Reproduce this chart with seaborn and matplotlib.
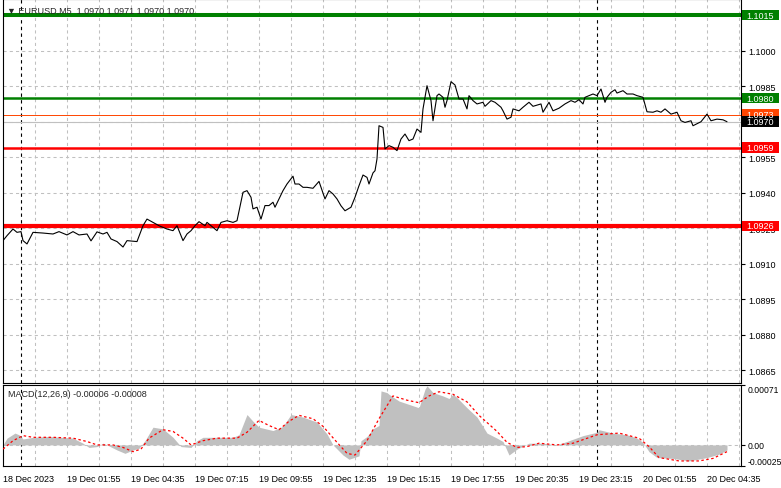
import matplotlib
matplotlib.use('Agg')
import matplotlib.pyplot as plt
from matplotlib.patches import Rectangle
import seaborn as sns

# EURUSD M5 closes, bar index counted from 18 Dec 23:15
price_bars = [0, 2, 5, 7, 9, 10, 12, 15, 20, 25, 28, 32, 35, 38, 42, 44, 47, 50, 52, 54,
              57, 60, 62, 67, 70, 72, 75, 78, 82, 85, 87, 90, 92, 94, 96, 98, 101, 102, 105, 107,
              109, 112, 115, 117, 120, 122, 124, 125, 127, 129, 131, 133, 135, 136, 140, 142, 145, 146, 148, 150,
              152, 155, 158, 161, 163, 165, 167, 169, 171, 174, 176, 178, 180, 182, 183, 185, 186, 187, 188, 190,
              191, 193, 195, 197, 199, 201, 203, 205, 207, 209, 210, 212, 214, 215, 217, 218, 220, 221, 222, 224,
              226, 228, 230, 232, 233, 235, 237, 240, 241, 244, 246, 249, 250, 252, 254, 255, 258, 260, 263, 265,
              269, 270, 273, 275, 278, 281, 284, 286, 288, 290, 291, 295, 297, 299, 301, 302, 304, 306, 307, 310,
              312, 315, 317, 320, 322, 325, 327, 329, 331, 334, 337, 339, 341, 344, 345, 349, 352, 354, 357, 360,
              362]
price_vals = [1.09198, 1.09219, 1.09247, 1.09233, 1.09236, 1.09198, 1.09184, 1.09233, 1.09230, 1.09226,
              1.09236, 1.09222, 1.09236, 1.09222, 1.09226, 1.09197, 1.09235, 1.09226, 1.09233, 1.09205,
              1.09194, 1.09171, 1.09198, 1.09194, 1.09261, 1.09289, 1.09275, 1.09261, 1.09247, 1.09240,
              1.09261, 1.09198, 1.09226, 1.09240, 1.09261, 1.09278, 1.09261, 1.09275, 1.09254, 1.09240,
              1.09275, 1.09282, 1.09275, 1.09282, 1.09402, 1.09409, 1.09381, 1.09332, 1.09339, 1.09289,
              1.09346, 1.09346, 1.09360, 1.09339, 1.09409, 1.09437, 1.09470, 1.09437, 1.09437, 1.09423,
              1.09423, 1.09419, 1.09448, 1.09374, 1.09409, 1.09395, 1.09374, 1.09345, 1.09324, 1.09339,
              1.09381, 1.09430, 1.09475, 1.09465, 1.09437, 1.09484, 1.09493, 1.09543, 1.09683, 1.09676,
              1.09585, 1.09599, 1.09592, 1.09578, 1.09627, 1.09648, 1.09620, 1.09627, 1.09669, 1.09655,
              1.09754, 1.09852, 1.09789, 1.09704, 1.09810, 1.09817, 1.09803, 1.09761, 1.09789, 1.09869,
              1.09855, 1.09796, 1.09796, 1.09754, 1.09810, 1.09789, 1.09775, 1.09782, 1.09765, 1.09789,
              1.09782, 1.09761, 1.09746, 1.09711, 1.09719, 1.09754, 1.09746, 1.09761, 1.09782, 1.09765,
              1.09775, 1.09740, 1.09782, 1.09746, 1.09757, 1.09775, 1.09789, 1.09782, 1.09793, 1.09775,
              1.09803, 1.09817, 1.09810, 1.09838, 1.09782, 1.09803, 1.09824, 1.09835, 1.09821, 1.09831,
              1.09817, 1.09817, 1.09810, 1.09803, 1.09742, 1.09740, 1.09746, 1.09740, 1.09754, 1.09732,
              1.09740, 1.09704, 1.09697, 1.09704, 1.09683, 1.09700, 1.09732, 1.09704, 1.09711, 1.09708,
              1.09700]

# MACD(12,26,9) histogram and signal
hist_bars = [0, 2, 6, 8, 10, 15, 23, 35, 40, 43, 47, 50, 52, 57, 61, 65, 68, 71, 75, 80,
             85, 89, 94, 97, 100, 115, 118, 122, 125, 128, 135, 140, 144, 150, 157, 162, 165, 170, 173, 178,
             179, 182, 185, 188, 189, 192, 193, 198, 203, 208, 211, 212, 215, 220, 223, 225, 227, 232, 237, 242,
             247, 250, 253, 257, 263, 270, 277, 283, 290, 297, 298, 305, 312, 317, 320, 323, 327, 335, 343, 352,
             358, 362]
hist_vals = [0.0, 0.00008, 0.00014, 0.00012, 0.00007, 0.00009, 0.00010, 0.00008, 0.00002, -0.00003,
             -0.00002, 0.00002, 0.0, -0.00006, -0.00010, -0.00006, -0.00004, 0.00005, 0.00021, 0.00019,
             0.00009, -0.00002, -0.00003, 0.00005, 0.00009, 0.00009, 0.00012, 0.00036, 0.00028, 0.00021,
             0.00017, 0.00022, 0.00036, 0.00033, 0.00027, 0.00013, 0.0, -0.00012, -0.00017, -0.00013,
             0.00005, 0.00010, 0.00019, 0.00023, 0.00064, 0.00062, 0.00060, 0.00052, 0.00048, 0.00044,
             0.00066, 0.00070, 0.00062, 0.00058, 0.00055, 0.00060, 0.00056, 0.00044, 0.00033, 0.00014,
             0.00008, 0.00004, -0.00012, -0.00005, 0.00002, 0.00002, 0.0, 0.00005, 0.00011, 0.00015,
             0.00018, 0.00014, 0.00012, 0.00008, 0.00003, -0.00008, -0.00015, -0.00016, -0.00019, -0.00015,
             -0.00011, -0.00006]
signal_bars = [0, 5, 10, 15, 25, 35, 42, 47, 55, 60, 65, 69, 73, 80, 85, 90, 94, 100, 107, 117,
               122, 128, 133, 138, 143, 148, 155, 160, 167, 172, 176, 182, 188, 195, 202, 208, 213, 218, 225, 232,
               238, 247, 252, 257, 262, 268, 277, 285, 297, 308, 318, 323, 328, 338, 348, 355, 362]
signal_vals = [-0.00005, 0.00005, 0.00011, 0.00009, 0.00009, 0.00008, 0.00004, 0.0, 0.0, -0.00003,
               -0.00008, -0.00005, 0.00008, 0.00018, 0.00016, 0.00008, 0.0, 0.00005, 0.00008, 0.00008,
               0.00015, 0.00029, 0.00023, 0.00018, 0.00028, 0.00035, 0.00031, 0.00022, 0.00003, -0.00010,
               -0.00012, 0.00005, 0.00031, 0.00058, 0.00053, 0.00050, 0.00058, 0.00063, 0.00060, 0.00051,
               0.00035, 0.00016, 0.00003, -0.00003, -0.00002, 0.00002, 0.0, 0.00002, 0.00012, 0.00014,
               0.00008, -0.00002, -0.00015, -0.00019, -0.00019, -0.00016, -0.00008]

level_prices = [1.1015, 1.0980, 1.0959, 1.0926]
level_colors = ['#008000', '#008000', '#FF0000', '#FF0000']
level_widths = [2.9, 1.8, 1.8, 3.0]
ask_price = 1.0973
bid_price = 1.0970

price_ticks = [1.1000, 1.0985, 1.0970, 1.0955, 1.0940, 1.0925, 1.0910, 1.0895, 1.0880, 1.0865]
time_ticks = list(range(0, 353, 32))
time_labels = ['18 Dec 2023', '19 Dec 01:55', '19 Dec 04:35', '19 Dec 07:15', '19 Dec 09:55',
               '19 Dec 12:35', '19 Dec 15:15', '19 Dec 17:55', '19 Dec 20:35', '19 Dec 23:15',
               '20 Dec 01:55', '20 Dec 04:35']
grid_bars = list(range(16, 369, 16))
day_breaks = [9, 297]

header = '\u25bc EURUSD,M5  1.0970 1.0971 1.0970 1.0970'
macd_title = 'MACD(12,26,9) -0.00006 -0.00008'

sns.set_style('white')
plt.rcParams['font.family'] = ['Liberation Sans', 'DejaVu Sans']
plt.rcParams['font.size'] = 6.5

W, H = 781, 489
fig = plt.figure(figsize=(W / 100, H / 100), dpi=100)
ax = fig.add_axes([3 / W, 1 - 384 / H, 738 / W, 384 / H])
ax2 = fig.add_axes([3 / W, 1 - 467 / H, 738 / W, 81 / H])

grid_kw = dict(color='#C0C0C0', lw=0.75, ls=(0, (3, 3)), zorder=0)
for a in (ax, ax2):
    for g in grid_bars:
        a.axvline(g, **grid_kw)
    for d in day_breaks:
        a.axvline(d, color='black', lw=0.8, ls=(0, (3, 3)), zorder=1)
    a.set_xlim(0, 369)
    for s in a.spines.values():
        s.set_color('black')
        s.set_linewidth(0.8)
    a.yaxis.tick_right()
    a.tick_params(axis='y', length=3, width=0.8, pad=2, labelsize=6.5, colors='black')

# main price panel
for p in price_ticks:
    ax.axhline(p, **grid_kw)
for lvl, col, lw in zip(level_prices, level_colors, level_widths):
    ax.axhline(lvl, color=col, lw=lw, zorder=2)
ax.axhline(ask_price, color='#FF4500', lw=0.7, zorder=2)
ax.axhline(bid_price, color='#C0C0C0', lw=0.8, zorder=2)

sns.lineplot(x=price_bars, y=price_vals, ax=ax, color='black', lw=0.8, zorder=3)

ax.set_ylim(1.08597, 1.10218)
ax.set_yticks(price_ticks)
# the 1.0970 scale label sits fully under the bid box
ax.set_yticklabels(['' if p == bid_price else f'{p:.4f}' for p in price_ticks])
ax.tick_params(axis='x', bottom=False, labelbottom=False)
ax.set_xlabel('')
ax.set_ylabel('')

ytr = ax.get_yaxis_transform()
box_w = 37 / 738
box_h = 0.00045
boxes = [(ask_price, '#FF4500'), (bid_price, 'black')] + list(zip(level_prices, level_colors))
for lvl, col in boxes:
    ax.add_patch(Rectangle((1.001, lvl - box_h / 2), box_w, box_h, transform=ytr,
                           facecolor=col, edgecolor='none', clip_on=False, zorder=5))
    ax.text(1.0077, lvl, f'{lvl:.4f}', transform=ytr, color='white', fontsize=6.5,
            va='center', ha='left', clip_on=False, zorder=6)

ax.text(4 / 738, 1 - 11 / 384, header, transform=ax.transAxes, fontsize=6.5,
        va='center', ha='left', zorder=6)

# MACD panel
ax2.axhline(0, **grid_kw)
ax2.fill_between(hist_bars, hist_vals, 0, color='#C0C0C0', lw=0, zorder=2)
sns.lineplot(x=signal_bars, y=signal_vals, ax=ax2, color='#FF0000', lw=0.9,
             ls=(0, (2, 2)), zorder=3)
ax2.set_ylim(-0.00025, 0.00071)
ax2.set_yticks([-0.00025, 0.0, 0.00071])
ax2.set_yticklabels(['-0.00025', '0.00', '0.00071'])
ax2.tick_params(axis='y', labelsize=6.2)
labs = ax2.get_yticklabels()
labs[0].set_va('bottom')
labs[2].set_va('top')
ax2.set_xticks(time_ticks)
ax2.set_xticklabels(time_labels, ha='left')
ax2.tick_params(axis='x', length=3, width=0.8, pad=3, labelsize=6.5, colors='black')
ax2.set_xlabel('')
ax2.set_ylabel('')
ax2.text(5 / 738, 1 - 9 / 81, macd_title, transform=ax2.transAxes, fontsize=6.5,
         va='center', ha='left', zorder=6)

fig.savefig('out.png', dpi=100, facecolor='white')
